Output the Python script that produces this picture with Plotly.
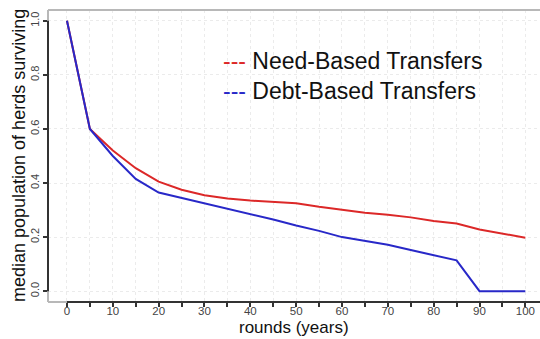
import plotly.graph_objects as go

# simulation rounds (years)
rounds = [0, 5, 10, 15, 20, 25, 30, 35, 40, 45, 50, 55, 60, 65, 70, 75, 80, 85, 90, 95, 100]

# median share of herds still surviving
need_based = [1.0, 0.60, 0.52, 0.455, 0.405, 0.375, 0.355, 0.343, 0.335, 0.330, 0.325,
              0.312, 0.300, 0.290, 0.283, 0.273, 0.260, 0.250, 0.228, 0.213, 0.198]
debt_based = [1.0, 0.60, 0.50, 0.415, 0.365, 0.345, 0.325, 0.305, 0.287, 0.265, 0.243,
              0.223, 0.200, 0.187, 0.172, 0.152, 0.132, 0.114, 0.0, 0.0, 0.0]

x_ticks = list(range(0, 101, 5))
x_tick_text = [str(v) if v % 10 == 0 else "" for v in x_ticks]
y_ticks = [0.0, 0.2, 0.4, 0.6, 0.8, 1.0]
y_tick_text = ["0.0", "0.2", "0.4", "0.6", "0.8", "1.0"]

series_names = ["Need-Based Transfers", "Debt-Based Transfers"]
series_colors = ["#dc2828", "#2828c8"]

FONT = "Liberation Sans, Arial, sans-serif"
X_RANGE = [-4.14, 103.2]

fig = go.Figure()
for name, vals, col in zip(series_names, [need_based, debt_based], series_colors):
    fig.add_trace(go.Scatter(x=rounds, y=vals, mode="lines", name=name,
                             line=dict(color=col, width=2), showlegend=False))

# copy of the first series on the secondary x axis, which only carries the tick marks
fig.add_trace(go.Scatter(x=rounds, y=need_based, mode="lines", xaxis="x2",
                         line=dict(color="rgba(0,0,0,0)", width=0),
                         hoverinfo="skip", showlegend=False))

# legend drawn as text with dash markers
for i, (name, col) in enumerate(zip(series_names, series_colors)):
    fig.add_annotation(xref="paper", yref="paper", x=(221 - 48) / 492, y=1 - (61 + 30 * i - 10) / 291.5,
                       xanchor="left", yanchor="middle", showarrow=False,
                       text=f"<span style='color:{col}'>---</span> {name}",
                       font=dict(family=FONT, size=23, color="#111111"))

# axis titles
fig.add_annotation(xref="paper", yref="paper", x=0.5, y=0, yshift=-25, xanchor="center",
                   yanchor="middle", showarrow=False, text="rounds (years)",
                   font=dict(family=FONT, size=17, color="#111111"))
fig.add_annotation(xref="paper", yref="paper", x=0, xshift=-29, y=0.5, xanchor="center",
                   yanchor="middle", showarrow=False, textangle=-90,
                   text="median population of herds surviving",
                   font=dict(family=FONT, size=18, color="#111111"))

# panel border (light) and axis lines (dark)
fig.add_shape(type="line", xref="paper", yref="paper", x0=0, x1=1.02, y0=1, y1=1,
              line=dict(color="#b8b8b8", width=2))
fig.add_shape(type="line", xref="paper", yref="paper", x0=0, x1=0, y0=0, y1=1,
              line=dict(color="#b8b8b8", width=2))
fig.add_shape(type="line", xref="paper", yref="paper", x0=0, x1=1.02, y0=0, y1=0,
              line=dict(color="#b8b8b8", width=2))
fig.add_shape(type="line", xref="x", yref="paper", x0=0, x1=110, y0=0, y1=0,
              line=dict(color="#333333", width=2))
fig.add_shape(type="line", xref="paper", yref="y", x0=0, x1=0, y0=0, y1=1,
              line=dict(color="#333333", width=2))

fig.update_layout(
    width=540, height=339,
    margin=dict(l=48, r=0, t=10, b=37),
    paper_bgcolor="white", plot_bgcolor="white",
    xaxis=dict(range=X_RANGE, tickvals=x_ticks, ticktext=x_tick_text,
               ticks="", ticklabelstandoff=0,
               showline=False, zeroline=False,
               showgrid=True, gridcolor="#ebebeb", griddash="dot", gridwidth=1,
               tickfont=dict(family=FONT, size=11.5, color="#444444")),
    xaxis2=dict(range=X_RANGE, overlaying="x", anchor="y", side="bottom",
                tickvals=x_ticks, showticklabels=False,
                ticks="outside", ticklen=4, tickwidth=1.5, tickcolor="#333333",
                showline=False, zeroline=False, showgrid=False),
    yaxis=dict(range=[-0.04, 1.04], tickvals=y_ticks, ticktext=y_tick_text,
               ticks="outside", ticklen=4, tickwidth=1.5, tickcolor="#333333",
               tickangle=-90, showline=False, zeroline=False,
               showgrid=True, gridcolor="#ebebeb", griddash="dot", gridwidth=1,
               tickfont=dict(family=FONT, size=11, color="#444444")),
)

fig.write_html("out.html")
